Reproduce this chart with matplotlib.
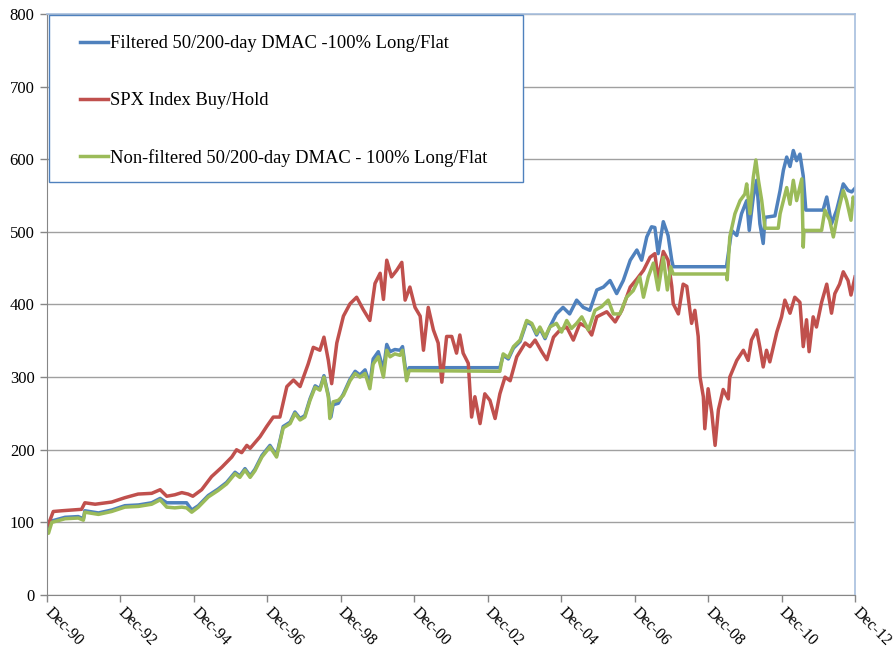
import matplotlib.pyplot as plt
from matplotlib.patches import Rectangle

plt.rcParams['font.family'] = ['Liberation Serif', 'DejaVu Serif']

# growth of 100 invested, dates as fractional years
spx_t = [1990.92, 1991.00, 1991.09, 1991.32, 1991.59, 1991.86, 1991.95, 1992.23, 1992.68, 1993.04,
         1993.40, 1993.77, 1994.00, 1994.18, 1994.40, 1994.59, 1994.76, 1994.89, 1995.13, 1995.40,
         1995.68, 1995.95, 1996.08, 1996.22, 1996.36, 1996.45, 1996.72, 1996.90, 1997.08, 1997.26,
         1997.45, 1997.63, 1997.81, 1998.03, 1998.17, 1998.35, 1998.46, 1998.58, 1998.67, 1998.81,
         1998.99, 1999.17, 1999.35, 1999.53, 1999.71, 1999.85, 1999.99, 2000.08, 2000.17, 2000.30,
         2000.44, 2000.58, 2000.67, 2000.80, 2000.94, 2001.08, 2001.17, 2001.30, 2001.44, 2001.57,
         2001.67, 2001.80, 2001.94, 2002.07, 2002.16, 2002.25, 2002.39, 2002.48, 2002.57, 2002.71,
         2002.84, 2002.98, 2003.12, 2003.25, 2003.39, 2003.53, 2003.71, 2003.94, 2004.07, 2004.21,
         2004.39, 2004.53, 2004.71, 2004.89, 2005.07, 2005.25, 2005.43, 2005.61, 2005.75, 2005.89,
         2006.16, 2006.39, 2006.57, 2006.80, 2006.98, 2007.16, 2007.34, 2007.47, 2007.56, 2007.70,
         2007.83, 2007.93, 2007.97, 2008.11, 2008.24, 2008.34, 2008.47, 2008.56, 2008.65, 2008.70,
         2008.79, 2008.83, 2008.92, 2009.02, 2009.11, 2009.20, 2009.33, 2009.47, 2009.51, 2009.70,
         2009.88, 2010.01, 2010.10, 2010.24, 2010.33, 2010.42, 2010.51, 2010.60, 2010.79, 2010.92,
         2011.01, 2011.15, 2011.28, 2011.42, 2011.51, 2011.60, 2011.67, 2011.78, 2011.87, 2012.01,
         2012.15, 2012.28, 2012.37, 2012.50, 2012.60, 2012.73, 2012.81, 2012.92]
spx_v = [95, 103, 115, 116, 117, 118, 127, 125, 128, 134,
         139, 140, 145, 136, 138, 141, 139, 136, 145, 163,
         176, 190, 200, 196, 206, 202, 218, 232, 245, 245,
         287, 296, 287, 318, 341, 337, 355, 323, 291, 347,
         384, 401, 410, 393, 378, 429, 443, 407, 461, 438,
         447, 458, 406, 424, 396, 384, 337, 396, 365, 347,
         293, 356, 356, 333, 358, 333, 319, 245, 273, 236,
         277, 268, 243, 277, 300, 295, 328, 347, 342, 351,
         335, 324, 355, 365, 369, 351, 374, 369, 358, 383,
         390, 376, 392, 424, 435, 447, 465, 470, 434, 473,
         461, 425, 401, 387, 428, 425, 374, 392, 356, 300,
         273, 229, 284, 251, 206, 255, 283, 270, 300, 323,
         337, 323, 351, 365, 341, 314, 337, 321, 362, 383,
         406, 388, 410, 403, 342, 379, 335, 383, 369, 403,
         428, 388, 415, 428, 445, 433, 413, 438]

filt_t = [1990.92, 1991.05, 1991.41, 1991.77, 1991.91, 1991.95, 1992.32, 1992.68, 1993.04, 1993.41,
          1993.77, 1994.00, 1994.18, 1994.72, 1994.86, 1995.04, 1995.31, 1995.58, 1995.81, 1996.04,
          1996.17, 1996.31, 1996.45, 1996.58, 1996.77, 1996.99, 1997.17, 1997.35, 1997.54, 1997.67,
          1997.81, 1997.94, 1998.08, 1998.22, 1998.35, 1998.46, 1998.58, 1998.65, 1998.71, 1998.85,
          1998.99, 1999.17, 1999.31, 1999.44, 1999.58, 1999.71, 1999.80, 1999.94, 2000.08, 2000.17,
          2000.26, 2000.39, 2000.53, 2000.60, 2000.71, 2000.78, 2003.25, 2003.34, 2003.48, 2003.62,
          2003.80, 2003.98, 2004.12, 2004.25, 2004.34, 2004.48, 2004.61, 2004.79, 2004.97, 2005.15,
          2005.34, 2005.52, 2005.70, 2005.89, 2006.07, 2006.25, 2006.43, 2006.61, 2006.80, 2006.98,
          2007.11, 2007.25, 2007.38, 2007.47, 2007.56, 2007.70, 2007.83, 2007.93, 2007.97, 2009.42,
          2009.56, 2009.70, 2009.83, 2009.97, 2010.04, 2010.15, 2010.24, 2010.33, 2010.42, 2010.47,
          2010.74, 2010.88, 2010.97, 2011.06, 2011.15, 2011.24, 2011.33, 2011.42, 2011.51, 2011.58,
          2012.05, 2012.15, 2012.28, 2012.42, 2012.60, 2012.73, 2012.83, 2012.92]
filt_v = [92, 102, 107, 108, 105, 116, 113, 117, 123, 124,
          127, 133, 127, 127, 117, 123, 137, 146, 155, 169,
          164, 174, 164, 173, 192, 206, 192, 232, 238, 252,
          243, 247, 270, 288, 284, 302, 275, 245, 262, 264,
          277, 297, 308, 303, 310, 290, 325, 335, 310, 345,
          335, 338, 337, 342, 300, 313, 313, 330, 325, 340,
          349, 376, 372, 358, 367, 353, 369, 387, 396, 387,
          406, 396, 392, 420, 424, 433, 415, 433, 461, 475,
          461, 493, 507, 506, 470, 514, 495, 461, 452, 452,
          502, 495, 525, 543, 502, 548, 571, 511, 484, 520,
          522, 557, 585, 603, 590, 612, 598, 607, 577, 530,
          530, 548, 511, 530, 566, 557, 555, 560]

nonf_t = [1990.92, 1990.96, 1991.05, 1991.41, 1991.77, 1991.91, 1991.95, 1992.32, 1992.68, 1993.04,
          1993.41, 1993.77, 1994.00, 1994.18, 1994.40, 1994.59, 1994.72, 1994.86, 1995.04, 1995.31,
          1995.58, 1995.81, 1996.04, 1996.17, 1996.31, 1996.45, 1996.58, 1996.77, 1996.99, 1997.17,
          1997.35, 1997.54, 1997.67, 1997.81, 1997.94, 1998.08, 1998.22, 1998.35, 1998.46, 1998.58,
          1998.62, 1998.71, 1998.85, 1998.99, 1999.17, 1999.31, 1999.44, 1999.58, 1999.71, 1999.80,
          1999.94, 2000.08, 2000.17, 2000.26, 2000.39, 2000.53, 2000.60, 2000.71, 2000.78, 2003.25,
          2003.34, 2003.48, 2003.62, 2003.80, 2003.98, 2004.12, 2004.25, 2004.34, 2004.48, 2004.61,
          2004.79, 2004.93, 2005.07, 2005.20, 2005.34, 2005.48, 2005.66, 2005.84, 2006.02, 2006.20,
          2006.34, 2006.52, 2006.70, 2006.88, 2007.06, 2007.16, 2007.29, 2007.43, 2007.56, 2007.70,
          2007.81, 2007.90, 2007.97, 2009.42, 2009.44, 2009.51, 2009.65, 2009.79, 2009.92, 2009.97,
          2010.06, 2010.15, 2010.22, 2010.29, 2010.38, 2010.47, 2010.83, 2010.88, 2010.97, 2011.06,
          2011.15, 2011.24, 2011.33, 2011.47, 2011.51, 2011.53, 2012.01, 2012.10, 2012.23, 2012.33,
          2012.47, 2012.60, 2012.69, 2012.81, 2012.87, 2012.92]
nonf_v = [90, 85, 100, 105, 106, 103, 114, 111, 115, 121,
          122, 125, 131, 121, 120, 121, 120, 114, 121, 135,
          144, 153, 167, 162, 172, 162, 171, 190, 204, 190,
          230, 236, 250, 241, 245, 268, 286, 282, 300, 273,
          243, 266, 268, 275, 295, 305, 300, 305, 284, 318,
          328, 300, 337, 328, 332, 330, 337, 295, 309, 308,
          332, 327, 342, 351, 378, 374, 360, 369, 355, 369,
          374, 362, 378, 367, 374, 383, 365, 392, 397, 406,
          387, 387, 410, 419, 438, 410, 438, 457, 420, 465,
          420, 452, 442, 442, 434, 493, 525, 543, 552, 566,
          525, 575, 599, 571, 543, 505, 505, 525, 543, 561,
          538, 571, 543, 573, 479, 502, 502, 530, 516, 493,
          530, 557, 543, 516, 548, 539]

tick_years = [1990.92 + 2 * i for i in range(12)]
tick_labels = ['Dec-90', 'Dec-92', 'Dec-94', 'Dec-96', 'Dec-98', 'Dec-00',
               'Dec-02', 'Dec-04', 'Dec-06', 'Dec-08', 'Dec-10', 'Dec-12']

fig = plt.figure(figsize=(8.94, 6.53), dpi=100)
ax = fig.add_axes([0.0526, 0.0888, 0.9038, 0.8898])

ax.plot(filt_t, filt_v, color='#4F81BD', lw=2.5,
        label='Filtered 50/200-day DMAC -100% Long/Flat')
ax.plot(spx_t, spx_v, color='#C0504D', lw=2.5, label='SPX Index Buy/Hold')
ax.plot(nonf_t, nonf_v, color='#9BBB59', lw=2.5,
        label='Non-filtered 50/200-day DMAC - 100% Long/Flat')

ax.set_xlim(1990.92, 2012.92)
ax.set_ylim(0, 800)
ax.set_yticks(range(0, 801, 100))
ax.set_xticks(tick_years)
ax.set_xticklabels(tick_labels, rotation=-45, ha='left', va='center',
                   rotation_mode='anchor')
ax.tick_params(axis='y', labelsize=12, colors='black')
ax.tick_params(axis='x', labelsize=11.5, colors='black')
ax.tick_params(axis='y', length=5, width=1, color='#868686', pad=4)
ax.tick_params(axis='x', length=5, width=1, color='#868686', pad=6)
ax.yaxis.grid(True, color='#A0A0A0', lw=1)
ax.set_axisbelow(True)

for side in ['left', 'bottom']:
    ax.spines[side].set_color('#868686')
for side in ['top', 'right']:
    ax.spines[side].set_color('#A7BFDE')
    ax.spines[side].set_linewidth(1.2)

# legend box
ax.add_patch(Rectangle((0.0025, 0.711), 0.587, 0.287, transform=ax.transAxes,
                       facecolor='white', edgecolor='#4F81BD', lw=1, zorder=4))
leg = ax.legend(loc='upper left', bbox_to_anchor=(0.0408, 0.9634), frameon=False,
                borderpad=0, borderaxespad=0, fontsize=13.3, labelspacing=2.16,
                handlelength=1.5, handletextpad=0.1)
leg.set_zorder(5)

fig.savefig('out.png', dpi=100)
